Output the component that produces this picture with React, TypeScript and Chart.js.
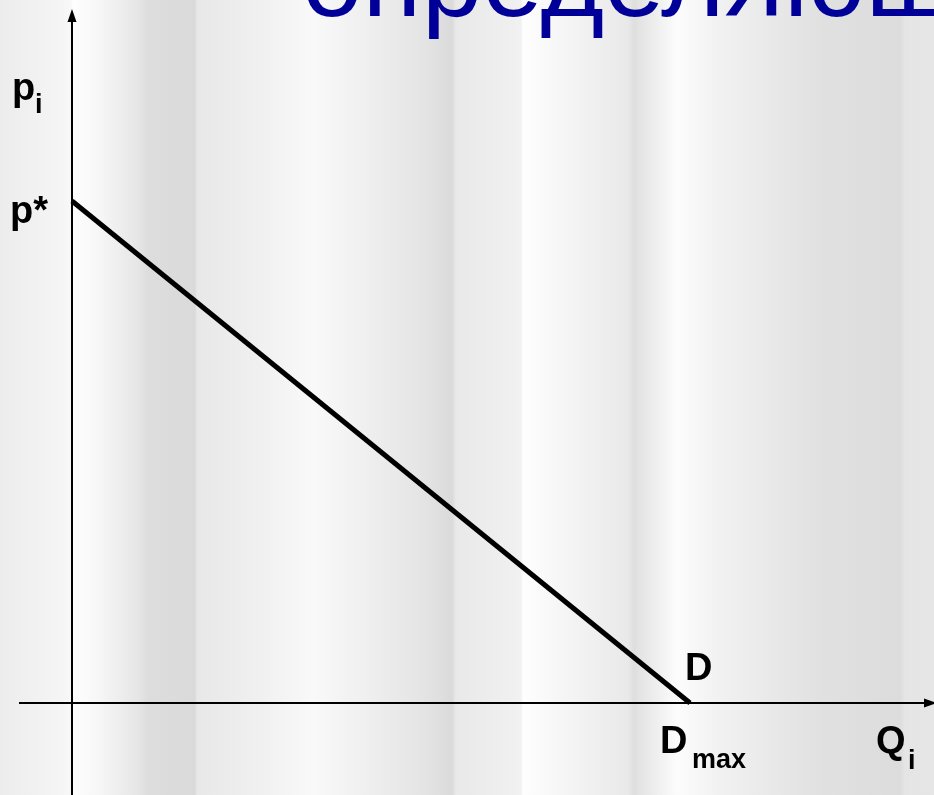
import React, { useEffect, useRef } from "react";
import { Chart, registerables } from "chart.js";

Chart.register(...registerables);

// Demand line: price p* at zero quantity, falling to zero at D_max
const quantities = [0, 100];
const prices = [100, 0];

// Axis titles and point labels
const priceAxisLabel = ["p", "i"];
const quantityAxisLabel = ["Q", "i"];
const priceTickLabel = "p*";
const quantityTickLabel = ["D", "max"];
const curveLabel = "D";
const slideTitle = "определяющ";

// Slide backdrop: vertical bands of soft grey (offset in px, grey level)
const bandStops: [number, number][] = [
  [0, 236], [60, 245], [71, 248], [73, 254], [100, 246], [138, 230],
  [148, 221], [195, 218], [197, 232], [260, 240], [312, 249], [330, 246],
  [420, 229], [440, 223], [452, 218], [456, 233], [515, 240], [521, 242],
  [523, 254], [560, 246], [628, 233], [634, 222], [640, 228], [677, 252],
  [720, 241], [820, 225], [900, 220], [905, 229], [934, 230],
];

const FONT = '"Liberation Sans", Arial, sans-serif';

export default function App() {
  const canvasRef = useRef<HTMLCanvasElement | null>(null);

  useEffect(() => {
    const canvas = canvasRef.current;
    if (!canvas) return;

    const backdrop = {
      id: "backdrop",
      beforeDraw(chart: any) {
        const { ctx, width, height } = chart;
        const g = ctx.createLinearGradient(0, 0, width, 0);
        for (const [x, v] of bandStops) {
          g.addColorStop(Math.min(1, x / width), `rgb(${v},${v},${v})`);
        }
        ctx.save();
        ctx.fillStyle = g;
        ctx.fillRect(0, 0, width, height);
        // slide title, running off the top edge
        ctx.fillStyle = "#000099";
        ctx.font = `109px ${FONT}`;
        ctx.textBaseline = "alphabetic";
        ctx.textAlign = "left";
        ctx.fillText(slideTitle, 302, 16);
        ctx.restore();
      },
    };

    const axesAndLabels = {
      id: "axesAndLabels",
      beforeDatasetsDraw(chart: any) {
        const { ctx, width, height } = chart;
        const xs = chart.scales.x;
        const ys = chart.scales.y;
        const ox = xs.getPixelForValue(0);
        const oy = ys.getPixelForValue(0);
        ctx.save();
        ctx.strokeStyle = "#000";
        ctx.fillStyle = "#000";
        ctx.lineWidth = 2;
        // vertical (price) axis
        ctx.beginPath();
        ctx.moveTo(ox, height);
        ctx.lineTo(ox, 20);
        ctx.stroke();
        ctx.beginPath();
        ctx.moveTo(ox, 9);
        ctx.lineTo(ox - 4.5, 22);
        ctx.lineTo(ox + 4.5, 22);
        ctx.closePath();
        ctx.fill();
        // horizontal (quantity) axis
        ctx.beginPath();
        ctx.moveTo(19, oy);
        ctx.lineTo(width - 8, oy);
        ctx.stroke();
        ctx.beginPath();
        ctx.moveTo(width + 3, oy);
        ctx.lineTo(width - 10, oy - 4.5);
        ctx.lineTo(width - 10, oy + 4.5);
        ctx.closePath();
        ctx.fill();
        ctx.restore();
      },
      afterDatasetsDraw(chart: any) {
        const { ctx } = chart;
        const xs = chart.scales.x;
        const ys = chart.scales.y;
        const ox = xs.getPixelForValue(0);
        const oy = ys.getPixelForValue(0);
        const dMax = xs.getPixelForValue(quantities[1]);
        const pStar = ys.getPixelForValue(prices[0]);
        const big = `bold 38px ${FONT}`;
        const small = `bold 27px ${FONT}`;
        ctx.save();
        ctx.fillStyle = "#000";
        ctx.textBaseline = "alphabetic";
        ctx.textAlign = "left";
        // p_i
        ctx.font = big;
        ctx.fillText(priceAxisLabel[0], ox - 60, 100);
        ctx.font = small;
        ctx.fillText(priceAxisLabel[1], ox - 37, 113);
        // p*
        ctx.font = big;
        ctx.fillText(priceTickLabel, ox - 62, pStar + 22);
        // D on the curve
        ctx.fillText(curveLabel, dMax - 5, oy - 23);
        // D_max
        ctx.fillText(quantityTickLabel[0], dMax - 30, oy + 50);
        ctx.font = small;
        ctx.fillText(quantityTickLabel[1], dMax + 2, oy + 65);
        // Q_i
        ctx.font = big;
        ctx.fillText(quantityAxisLabel[0], 876, oy + 50);
        ctx.font = small;
        ctx.fillText(quantityAxisLabel[1], 908, oy + 66);
        ctx.restore();
      },
    };

    const chart = new Chart(canvas, {
      type: "scatter",
      data: {
        datasets: [
          {
            label: curveLabel,
            data: quantities.map((q, i) => ({ x: q, y: prices[i] })),
            showLine: true,
            borderColor: "#000",
            borderWidth: 5,
            borderCapStyle: "butt",
            pointRadius: 0,
            pointHoverRadius: 0,
            clip: false,
          },
        ],
      },
      options: {
        responsive: false,
        animation: false,
        events: [],
        layout: { padding: 0 },
        plugins: {
          legend: { display: false },
          tooltip: { enabled: false },
          title: { display: false },
        },
        scales: {
          x: { type: "linear", display: false, min: -11.65, max: 139.48 },
          y: { type: "linear", display: false, min: -18.33, max: 140.04 },
        },
      },
      plugins: [backdrop, axesAndLabels],
    });

    return () => chart.destroy();
  }, []);

  return (
    <div style={{ position: "absolute", left: 0, top: 0, width: 934, height: 795 }}>
      <canvas ref={canvasRef} width={934} height={795} style={{ display: "block" }} />
    </div>
  );
}
